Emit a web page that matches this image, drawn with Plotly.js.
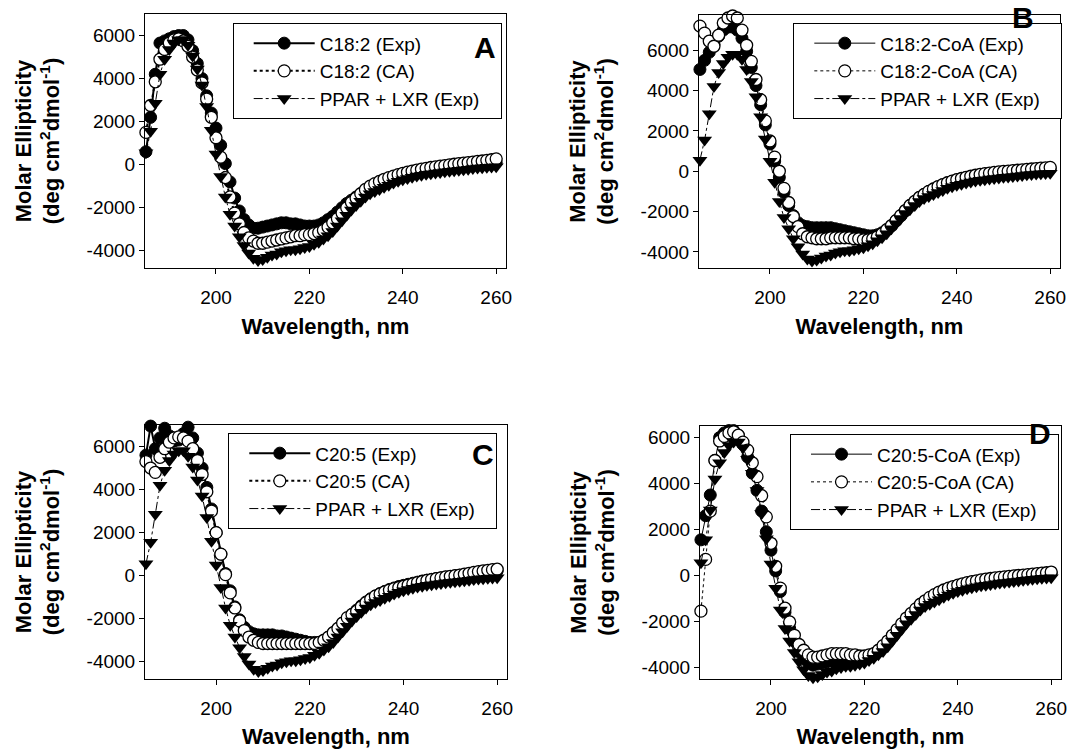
<!DOCTYPE html>
<html><head><meta charset="utf-8">
<script src="https://cdn.plot.ly/plotly-3.0.1.min.js"></script>
<style>html,body{margin:0;padding:0;background:#fff}#chart{width:1068px;height:749px}</style>
</head><body><div id="chart"></div>
<script>
const wavelength = [185,186,187,188,189,190,191,192,193,194,
195,196,197,198,199,200,201,202,203,204,
205,206,207,208,209,210,211,212,213,214,
215,216,217,218,219,220,221,222,223,224,
225,226,227,228,229,230,231,232,233,234,
235,236,237,238,239,240,241,242,243,244,
245,246,247,248,249,250,251,252,253,254,
255,256,257,258,259,260];

const ppar_lxr_exp = [550,1550,2850,4200,4900,5350,5650,5800,5800,5550,
5050,4450,3700,2700,1600,500,-550,-1500,-2300,-2850,
-3350,-3750,-4100,-4350,-4450,-4400,-4300,-4200,-4150,-4050,
-4000,-3950,-3950,-3900,-3850,-3800,-3700,-3600,-3450,-3300,
-3100,-2850,-2600,-2350,-2100,-1900,-1700,-1500,-1350,-1250,
-1150,-1050,-950,-850,-770,-700,-640,-580,-530,-490,
-450,-420,-390,-360,-330,-300,-280,-260,-240,-210,
-180,-160,-140,-125,-110,-100];

const c182_exp = [600,2200,4200,5650,5750,5850,5950,6000,6000,5800,
5300,4700,4000,3200,2400,1700,900,50,-800,-1550,
-2150,-2550,-2800,-2950,-2950,-2900,-2850,-2800,-2750,-2700,
-2700,-2750,-2750,-2800,-2850,-2850,-2850,-2800,-2700,-2550,
-2400,-2200,-2000,-1800,-1650,-1500,-1350,-1200,-1050,-950,
-850,-750,-650,-580,-510,-450,-400,-350,-310,-270,
-230,-200,-170,-140,-110,-90,-70,-50,-30,-10,
10,30,50,60,80,100];

const c182_ca = [1500,2750,3850,4900,5350,5650,5800,5850,5750,5500,
5000,4400,3800,3050,2200,1250,350,-600,-1500,-2250,
-2750,-3150,-3400,-3550,-3650,-3650,-3600,-3550,-3500,-3450,
-3400,-3350,-3300,-3300,-3250,-3250,-3200,-3150,-3050,-2900,
-2700,-2500,-2250,-2000,-1750,-1550,-1350,-1150,-1000,-880,
-780,-680,-600,-530,-460,-400,-350,-300,-250,-210,
-170,-130,-100,-70,-40,-10,20,50,70,100,
120,150,170,200,230,270];

const c182coa_exp = [5050,5500,5900,6300,6700,7000,7150,7150,7000,6600,
5950,5150,4250,3300,2300,1350,500,-300,-1050,-1700,
-2200,-2550,-2700,-2750,-2800,-2800,-2800,-2800,-2800,-2850,
-2900,-2950,-3000,-3050,-3100,-3150,-3200,-3200,-3150,-3050,
-2900,-2700,-2450,-2200,-1950,-1700,-1500,-1300,-1150,-1000,
-880,-770,-670,-580,-500,-430,-370,-310,-260,-220,
-180,-150,-120,-90,-60,-40,-20,0,20,40,
60,80,90,100,110,120];

const c182coa_ca = [7200,6850,6450,6200,6750,7350,7600,7700,7600,7000,
6250,5450,4550,3550,2500,1500,700,0,-850,-1550,
-2250,-2750,-3100,-3250,-3300,-3350,-3350,-3350,-3300,-3300,
-3300,-3300,-3300,-3350,-3350,-3400,-3400,-3350,-3250,-3100,
-2900,-2700,-2450,-2200,-1950,-1700,-1500,-1300,-1150,-1000,
-880,-760,-660,-570,-490,-420,-360,-300,-250,-200,
-160,-120,-90,-60,-30,-10,10,30,50,70,
90,110,130,150,170,190];

const c205_exp = [5600,6950,5900,6400,6850,6500,6250,6300,6600,6900,
6400,5700,5000,4100,3100,2000,1000,100,-700,-1450,
-2050,-2400,-2600,-2700,-2750,-2750,-2750,-2750,-2800,-2800,
-2850,-2900,-2950,-3000,-3050,-3100,-3100,-3100,-3000,-2850,
-2650,-2450,-2200,-2000,-1800,-1600,-1400,-1220,-1070,-940,
-830,-730,-640,-570,-500,-450,-400,-350,-300,-250,
-210,-170,-130,-100,-70,-40,-10,20,50,80,
110,140,170,190,210,230];

const c205_ca = [5300,5000,4800,5500,5900,6200,6400,6450,6400,6250,
5900,5350,4700,3900,3000,2000,1000,50,-800,-1500,
-2100,-2550,-2850,-3000,-3100,-3150,-3150,-3150,-3150,-3150,
-3150,-3150,-3150,-3150,-3150,-3150,-3150,-3100,-3000,-2850,
-2650,-2450,-2200,-1950,-1800,-1650,-1450,-1250,-1100,-950,
-850,-750,-670,-600,-550,-500,-440,-380,-320,-270,
-220,-180,-140,-100,-60,-30,0,30,70,110,
150,190,220,250,280,300];

const c205coa_exp = [1550,2600,3500,5000,6000,6200,6300,6300,6100,5700,
5150,4450,3700,2800,1900,1100,200,-700,-1600,-2300,
-2850,-3300,-3600,-3800,-3900,-3850,-3800,-3750,-3700,-3700,
-3700,-3700,-3650,-3650,-3650,-3600,-3550,-3450,-3300,-3100,
-2900,-2650,-2400,-2150,-1900,-1700,-1500,-1300,-1150,-1000,
-880,-770,-680,-600,-520,-460,-400,-350,-300,-260,
-220,-190,-160,-130,-110,-90,-70,-50,-30,-10,
10,30,50,70,90,110];

const c205coa_ca = [-1550,700,2800,5000,5850,6050,6200,6250,6100,5800,
5450,4900,4300,3470,2550,1400,400,-550,-1420,-2020,
-2600,-3000,-3250,-3450,-3550,-3550,-3500,-3450,-3400,-3400,
-3400,-3400,-3450,-3450,-3500,-3500,-3450,-3400,-3250,-3050,
-2850,-2600,-2350,-2100,-1850,-1650,-1450,-1250,-1100,-950,
-830,-720,-630,-550,-480,-420,-360,-310,-270,-230,
-190,-160,-130,-100,-80,-60,-40,-20,0,20,
40,60,80,100,120,150];

const panel_letters = ['A','B','C','D'];
const exp_names = ['C18:2 (Exp)','C18:2-CoA (Exp)','C20:5 (Exp)','C20:5-CoA (Exp)'];
const ca_names = ['C18:2 (CA)','C18:2-CoA (CA)','C20:5 (CA)','C20:5-CoA (CA)'];
const ppar_name = 'PPAR + LXR (Exp)';
const exp_series = [c182_exp, c182coa_exp, c205_exp, c205coa_exp];
const ca_series = [c182_ca, c182coa_ca, c205_ca, c205coa_ca];
const y_ranges = [[-4800,7000],[-4800,7750],[-4800,7000],[-4500,6500]];
const x_ticks = [200,220,240,260];
const y_ticks = [-4000,-2000,0,2000,4000,6000];

const W = 1068, H = 749;
const FONT = 'Liberation Sans, Arial, Helvetica, sans-serif';
// plot boxes in pixels [left, top, right, bottom]
const boxes = [[145,14,506,268],[699,15,1060,268],[145,425,507,679],[700,426,1061,679]];
const legendPos = [[232.7,23.3],[793.3,23.3],[228.3,433.3],[790,434.3]];
const letterPos = [[0.942,0.868],[0.897,0.99],[0.935,0.882],[0.942,0.972]];
const lineW = [2,1,2,1];
const PAD = '\u00a0\u00a0\u00a0';

const traces = [];
const layout = {
  width: W, height: H, autosize: false,
  margin: {l:0,r:0,t:0,b:0},
  paper_bgcolor: 'white', plot_bgcolor: 'white',
  font: {family: FONT, color: 'black', size: 19},
  annotations: []
};

for (let i = 0; i < 4; i++) {
  const sfx = i === 0 ? '' : String(i+1);
  const xa = 'x' + sfx, ya = 'y' + sfx;
  const lg = 'legend' + sfx;
  traces.push({
    x: wavelength, y: exp_series[i], xaxis: xa, yaxis: ya, legend: lg,
    name: exp_names[i], type: 'scatter', mode: 'lines+markers', cliponaxis: false,
    line: {color: 'black', width: lineW[i]},
    marker: {symbol: 'circle', size: 12, color: 'black', line: {color: 'black', width: 1}}
  });
  traces.push({
    x: wavelength, y: ca_series[i], xaxis: xa, yaxis: ya, legend: lg,
    name: ca_names[i], type: 'scatter', mode: 'lines+markers', cliponaxis: false,
    line: {color: 'black', width: lineW[i], dash: 'dot'},
    marker: {symbol: 'circle', size: 12, color: 'white', line: {color: 'black', width: 1.3}}
  });
  traces.push({
    x: wavelength, y: ppar_lxr_exp, xaxis: xa, yaxis: ya, legend: lg,
    name: ppar_name + PAD, type: 'scatter', mode: 'lines+markers', cliponaxis: false,
    line: {color: 'black', width: 1, dash: 'dashdot'},
    marker: {symbol: 'triangle-down', size: 13, color: 'black', line: {color: 'black', width: 0}}
  });
  const b = boxes[i];
  layout['xaxis' + sfx] = {
    domain: [b[0]/W, b[2]/W], anchor: ya,
    range: [184.8, 262.1], tickvals: x_ticks, ticktext: x_ticks.map(String),
    showline: true, linecolor: 'black', linewidth: 1, mirror: true,
    ticks: 'outside', ticklen: 5, tickcolor: 'black', tickwidth: 1,
    showgrid: false, zeroline: false, ticklabelstandoff: 7,
    tickfont: {family: FONT, size: 19, color: 'black'},
    title: {text: 'Wavelength, nm', standoff: 11, font: {family: FONT, size: 22, color: 'black', weight: 'bold'}}
  };
  layout['yaxis' + sfx] = {
    domain: [1 - b[3]/H, 1 - b[1]/H], anchor: xa,
    range: y_ranges[i], tickvals: y_ticks, ticktext: y_ticks.map(String),
    showline: true, linecolor: 'black', linewidth: 1, mirror: true,
    ticks: 'outside', ticklen: 5, tickcolor: 'black', tickwidth: 1,
    showgrid: false, zeroline: false,
    tickfont: {family: FONT, size: 19, color: 'black'},
    title: {text: 'Molar Ellipticity<br>(deg cm<sup>2</sup>dmol<sup>-1</sup>)', standoff: 20,
            font: {family: FONT, size: 22, color: 'black', weight: 'bold'}}
  };
  layout[lg] = {
    x: legendPos[i][0]/W, y: 1 - legendPos[i][1]/H, xanchor: 'left', yanchor: 'top',
    bgcolor: 'white', bordercolor: 'black', borderwidth: 1,
    font: {family: FONT, size: 19, color: 'black'},
    itemwidth: 61, indentation: 15, tracegroupgap: 0
  };
  layout.annotations.push({
    xref: xa + ' domain', yref: ya + ' domain', x: letterPos[i][0], y: letterPos[i][1],
    text: panel_letters[i], showarrow: false, xanchor: 'center', yanchor: 'middle',
    font: {family: FONT, size: 30, color: 'black', weight: 'bold'}
  });
}

Plotly.newPlot('chart', traces, layout, {displayModeBar: false, staticPlot: true});
</script>
</body></html>
